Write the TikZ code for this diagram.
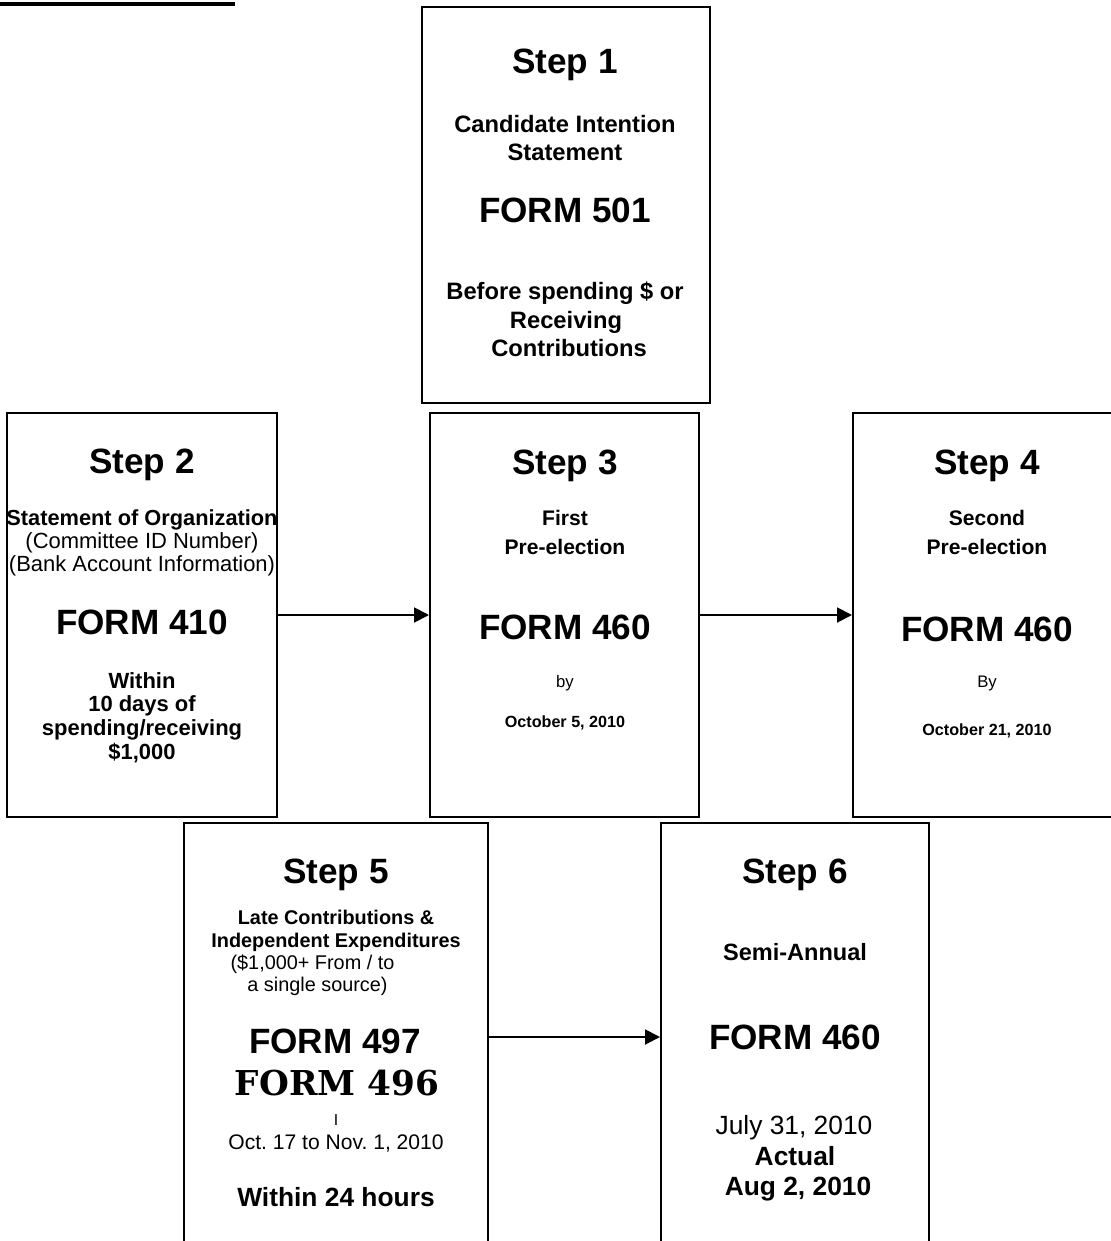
\documentclass[tikz,border=0pt]{standalone}
\usepackage{fontspec}
\setmainfont{Liberation Sans}
\newfontfamily\slabfont{DejaVu Serif}
\usetikzlibrary{arrows.meta}
\frenchspacing
\newlength{\du}
\setlength{\du}{0.02cm}
\newcommand{\fsz}[1]{\fontsize{#1}{#1}\selectfont}
\tikzset{
  stepbox/.style={draw, line width=2\du, inner sep=0pt},
  txt/.style={anchor=base, inner sep=0pt},
  flow/.style={line width=2\du, -{Triangle[length=8.5pt,width=8.5pt]}},
  head/.style={txt, font=\fsz{20}\bfseries},
  form/.style={txt, font=\fsz{20}\bfseries},
}

\begin{document}
\begin{tikzpicture}
\pgftransformxscale{1.000000}
\pgftransformyscale{-1.000000}
\useasboundingbox (0\du,0\du) rectangle (1110\du,1241\du);
\draw[line width=4\du] (0\du,4\du)--(235\du,4\du);
% boxes
\node[stepbox, minimum width=288\du, minimum height=396\du] (s1) at (566\du,205\du) {};
\node[stepbox, minimum width=270\du, minimum height=404\du] (s2) at (142\du,615\du) {};
\node[stepbox, minimum width=269\du, minimum height=404\du] (s3) at (564.5\du,615\du) {};
\node[stepbox, minimum width=268\du, minimum height=404\du] (s4) at (987\du,615\du) {};
\node[stepbox, minimum width=304\du, minimum height=428\du] (s5) at (336\du,1037\du) {};
\node[stepbox, minimum width=268\du, minimum height=428\du] (s6) at (795\du,1037\du) {};
% step 1
\node[head] (t1a) at (565\du,73.6\du) {Step 1};
\node[txt, font=\fsz{13.5}\bfseries] (t1b) at (565\du,132.5\du) {Candidate Intention};
\node[txt, font=\fsz{13.5}\bfseries] (t1c) at (565\du,160.5\du) {Statement};
\node[form] (t1d) at (565\du,222.6\du) {FORM 501};
\node[txt, font=\fsz{13.5}\bfseries] (t1e) at (565\du,299.5\du) {Before spending \$ or};
\node[txt, font=\fsz{13.5}\bfseries] (t1f) at (566\du,328.5\du) {Receiving};
\node[txt, font=\fsz{13.5}\bfseries] (t1g) at (569\du,356.5\du) {Contributions};
% step 2
\node[head] (t2a) at (142\du,473.6\du) {Step 2};
\node[txt, font=\fsz{12.4}\bfseries] (t2b) at (142\du,525\du) {Statement of Organization};
\node[txt, font=\fsz{12.5}] (t2c) at (142\du,548\du) {(Committee ID Number)};
\node[txt, font=\fsz{12.5}] (t2d) at (142\du,571\du) {(Bank Account Information)};
\node[form] (t2e) at (142\du,634.6\du) {FORM 410};
\node[txt, font=\fsz{12.5}\bfseries] (t2f) at (142\du,688\du) {Within};
\node[txt, font=\fsz{12.5}\bfseries] (t2g) at (142\du,711\du) {10 days of};
\node[txt, font=\fsz{12.5}\bfseries] (t2h) at (142\du,735\du) {spending/receiving};
\node[txt, font=\fsz{12.5}\bfseries] (t2i) at (142\du,759\du) {\$1,000};
% step 3
\node[head] (t3a) at (565\du,474.6\du) {Step 3};
\node[txt, font=\fsz{12}\bfseries] (t3b) at (565\du,525.6\du) {First};
\node[txt, font=\fsz{12}\bfseries] (t3c) at (565\du,554.6\du) {Pre-election};
\node[form] (t3d) at (565\du,639.6\du) {FORM 460};
\node[txt, font=\fsz{9.5}] (t3e) at (565\du,687\du) {by};
\node[txt, font=\fsz{9.2}\bfseries] (t3f) at (565\du,727.8\du) {October 5, 2010};
% step 4
\node[head] (t4a) at (987\du,474.6\du) {Step 4};
\node[txt, font=\fsz{12}\bfseries] (t4b) at (987\du,525.6\du) {Second};
\node[txt, font=\fsz{12}\bfseries] (t4c) at (987\du,554.6\du) {Pre-election};
\node[form] (t4d) at (987\du,641\du) {FORM 460};
\node[txt, font=\fsz{9.5}] (t4e) at (987\du,687\du) {By};
\node[txt, font=\fsz{9.2}\bfseries] (t4f) at (987\du,735\du) {October 21, 2010};
% step 5
\node[head] (t5a) at (336\du,883.6\du) {Step 5};
\node[txt, font=\fsz{11.3}\bfseries] (t5b) at (336\du,924\du) {Late Contributions \&};
\node[txt, font=\fsz{11.3}\bfseries] (t5c) at (336\du,947\du) {Independent Expenditures};
\node[txt, font=\fsz{11.3}] (t5d) at (312.5\du,969\du) {(\$1,000+ From / to};
\node[txt, font=\fsz{11.3}] (t5e) at (317.5\du,991\du) {a single source)};
\node[form] (t5f) at (335\du,1053.6\du) {FORM 497};
\node[txt, font=\fsz{19.5}\slabfont\bfseries] (t5g) at (337\du,1095.5\du) {FORM 496};
\node[txt, font=\fsz{9}] (t5h) at (336\du,1125\du) {I};
\node[txt, font=\fsz{12}] (t5i) at (336\du,1149.6\du) {Oct. 17 to Nov. 1, 2010};
\node[txt, font=\fsz{15}\bfseries] (t5j) at (336\du,1206.5\du) {Within 24 hours};
% step 6
\node[head] (t6a) at (795\du,883.6\du) {Step 6};
\node[txt, font=\fsz{13.4}\bfseries] (t6b) at (795\du,960\du) {Semi-Annual};
\node[form] (t6c) at (795\du,1049.6\du) {FORM 460};
\node[txt, font=\fsz{15}] (t6d) at (794\du,1134.5\du) {July 31, 2010};
\node[txt, font=\fsz{15}\bfseries] (t6e) at (795\du,1165\du) {Actual};
\node[txt, font=\fsz{15}\bfseries] (t6f) at (798\du,1195.5\du) {Aug 2, 2010};
% arrows
\draw[flow] (s2.east)--(s3.west);
\draw[flow] (s3.east)--(s4.west);
\draw[flow] (s5.east)--(s6.west);
\end{tikzpicture}
\end{document}
